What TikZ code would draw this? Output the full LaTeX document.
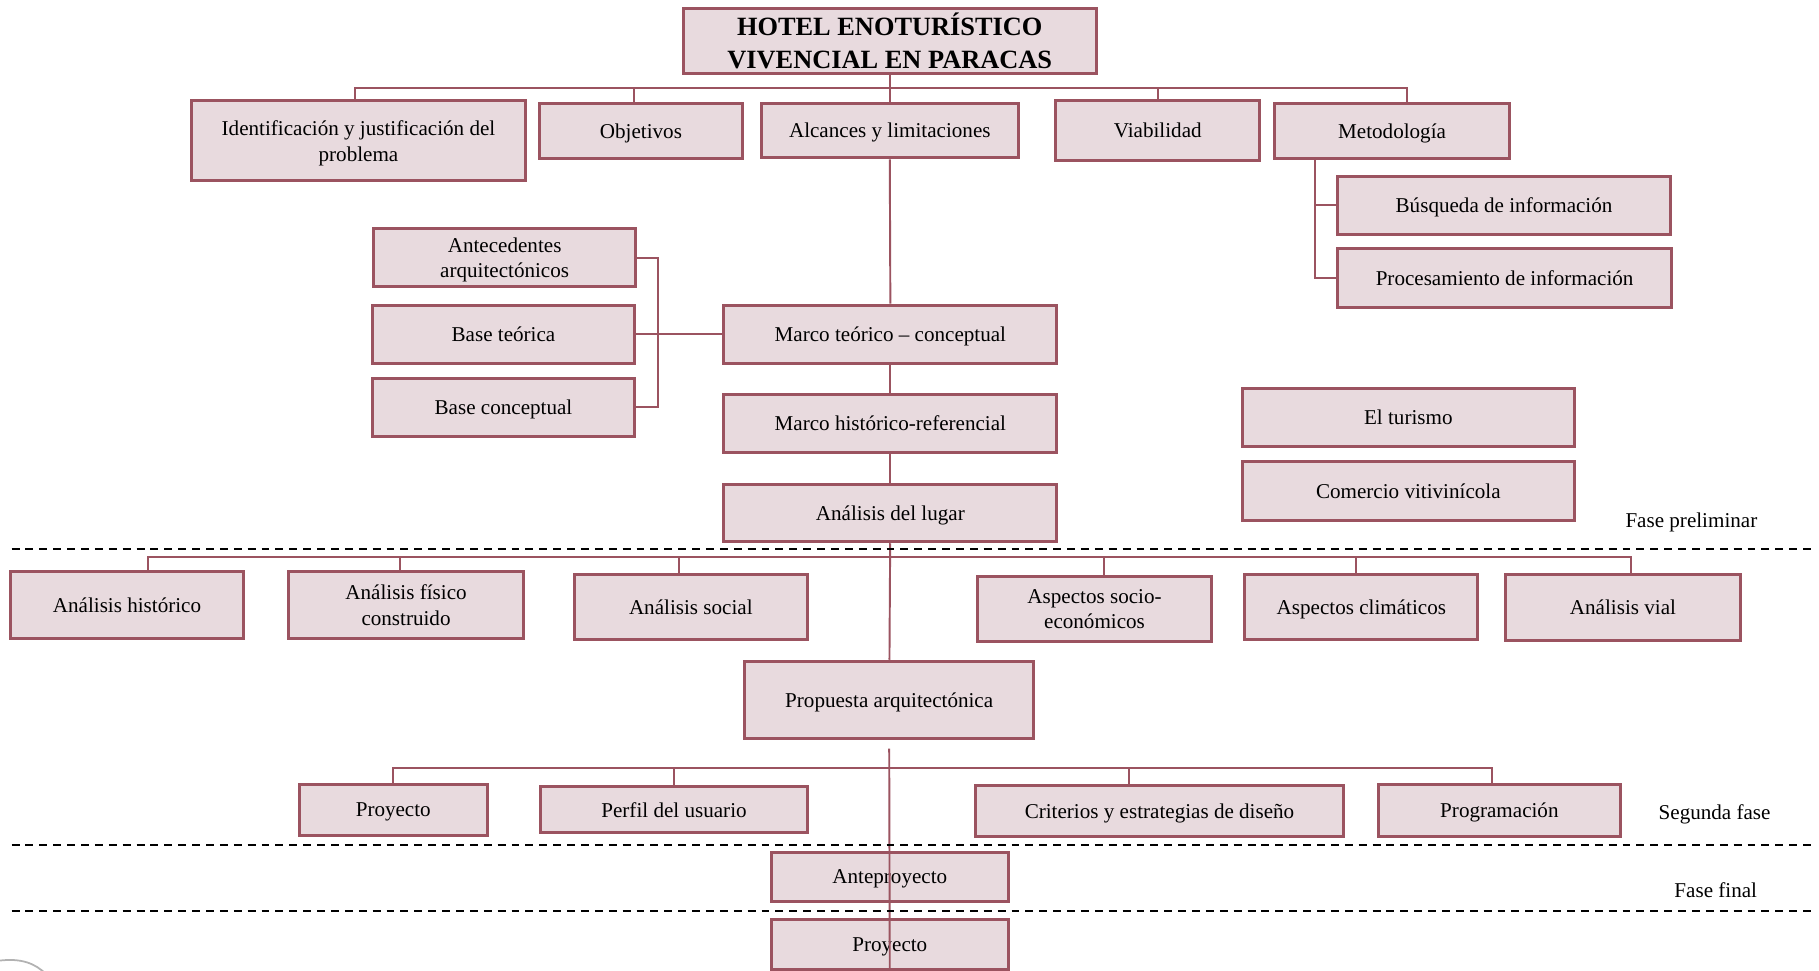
\documentclass[tikz,border=0pt]{standalone}
\usepackage{fontspec}
\setmainfont{Liberation Serif}
\usetikzlibrary{calc}
\definecolor{borde}{RGB}{155,83,96}
\definecolor{relleno}{RGB}{232,218,222}
\def\px{0.0232cm}

\begin{document}
\begin{tikzpicture}[x=0.0232cm, y=-0.0232cm,
  caja/.style 2 args={draw=borde, fill=relleno, line width=1.7pt, minimum width=#1*\px, minimum height=#2*\px, inner sep=0pt, text depth=0pt, align=center, font=\fontsize{12}{14.5}\selectfont},
  linea/.style={draw=borde, line width=1.1pt},
  fase/.style={dash pattern=on 4.5pt off 3.4pt, line width=1.1pt},
  etiqueta/.style={font=\fontsize{12}{14.5}\selectfont}]

\useasboundingbox (0,0) rectangle (1568,837);
\clip (0,0) rectangle (1568,837);

% primer nivel
\node[caja={356}{56}, font=\fontsize{15}{18.4}\selectfont\bfseries] (titulo) at (767,35) {HOTEL ENOTURÍSTICO\\VIVENCIAL EN PARACAS};
\node[caja={288}{69}] (ident) at (309,121.5) {Identificación y justificación del\\problema};
\node[caja={175}{48}] (objet) at (552.5,113) {Objetivos};
\node[caja={222}{47}] (alcan) at (767,112.5) {Alcances y limitaciones};
\node[caja={176}{51}] (viab) at (998,112.5) {Viabilidad};
\node[caja={202}{48}] (metod) at (1200,113) {Metodología};
\node[caja={287}{50}] (busq) at (1296.5,177) {Búsqueda de información};
\node[caja={288}{51}] (proc) at (1297,239.5) {Procesamiento de información};

% marco
\node[caja={226}{50}] (antec) at (435,222) {Antecedentes\\arquitectónicos};
\node[caja={226}{50}] (bteor) at (434,288) {Base teórica};
\node[caja={226}{50}] (bconc) at (434,351) {Base conceptual};
\node[caja={287}{50}] (mteor) at (767.5,288) {Marco teórico – conceptual};
\node[caja={287}{50}] (mhist) at (767.5,365) {Marco histórico-referencial};
\node[caja={287}{49}] (alug) at (767.5,442.5) {Análisis del lugar};
\node[caja={286}{50}] (turis) at (1214,360) {El turismo};
\node[caja={286}{51}] (comer) at (1214,423.5) {Comercio vitivinícola};

% analisis
\node[caja={201}{57}] (ahist) at (109.5,521.5) {Análisis histórico};
\node[caja={202}{57}] (afis) at (350,521.5) {Análisis físico\\construido};
\node[caja={201}{56}] (asoc) at (595.5,523) {Análisis social};
\node[caja={201}{56}] (asocio) at (943.5,525) {Aspectos socio-\\económicos};
\node[caja={201}{56}] (aclim) at (1173.5,523) {Aspectos climáticos};
\node[caja={202}{57}] (avial) at (1399,523.5) {Análisis vial};
\node[caja={249}{67}] (prop) at (766.5,603.5) {Propuesta arquitectónica};

% segunda fase y final
\node[caja={162}{44}] (proy) at (339,698) {Proyecto};
\node[caja={230}{40}] (perf) at (581,698) {Perfil del usuario};
\node[caja={317}{44}] (crit) at (999.5,699) {Criterios y estrategias de diseño};
\node[caja={209}{45}] (prog) at (1292.5,698.5) {Programación};
\node[caja={204}{42}] (antep) at (767,756) {Anteproyecto};
\node[caja={204}{43}] (proyf) at (767,814.5) {Proyecto};

\node[etiqueta] (fase1) at (1458,450) {Fase preliminar};
\node[etiqueta] (fase2) at (1478,702) {Segunda fase};
\node[etiqueta] (fase3) at (1479,767) {Fase final};

% conectores
\coordinate (bus1) at (767,76);
\coordinate (bus2) at (767,480);
\coordinate (bus3) at (767,662);
\draw[linea] (titulo.south) -- (alcan.north);
\foreach \n/\d in {ident/-3, objet/-6, viab/0, metod/13}
  \draw[linea] ([xshift=\d*\px]\n.north) |- (bus1);

\coordinate (met) at ($(metod.south west)+(36,0)$);
\draw[linea] (met) |- (busq.west);
\draw[linea] (met) |- (proc.west);

\draw[linea] (alcan.south) -- (mteor.north);
\draw[linea] (mteor) -- (mhist);
\draw[linea] (mhist) -- (alug);
\coordinate (corch) at ($(bteor.east)+(19,0)$);
\draw[linea] (antec.east) -| (corch) |- (bconc.east);
\draw[linea] (bteor.east) -- (mteor.west);

\draw[linea] (alug) -- (prop);
\foreach \n/\d in {ahist/18, afis/-5, asoc/-10, asocio/8, aclim/-5, avial/7}
  \draw[linea] ([xshift=\d*\px]\n.north) |- (bus2);

\foreach \n/\d in {proy/0, perf/0, crit/-26, prog/-6}
  \draw[linea] ([xshift=\d*\px]\n.north) |- (bus3);
\draw[linea] ([yshift=-7*\px]prop.south) -- (proyf.south);

% fases
\draw[fase] (10,473) -- (1562,473);
\draw[fase] (10,728) -- (1562,728);
\draw[fase] (10,785) -- (1562,785);

\draw[gray!60, line width=1pt] (0,828) .. controls (18,826) and (30,830) .. (40,840);

\end{tikzpicture}
\end{document}
